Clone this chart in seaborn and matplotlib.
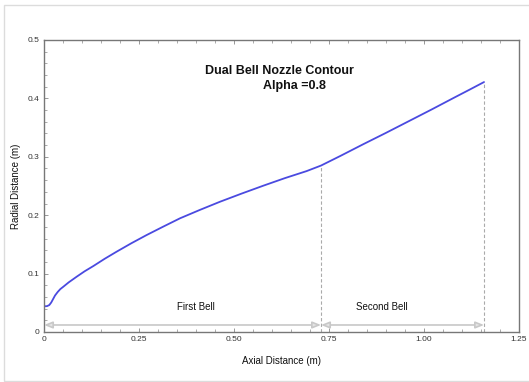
import matplotlib
matplotlib.use("Agg")
import matplotlib.pyplot as plt
from matplotlib.patches import Rectangle
from matplotlib.ticker import MultipleLocator, FixedLocator, FixedFormatter
import seaborn as sns
import pandas as pd

# Nozzle wall contour (axial vs radial distance, metres)
axial = [0.000, 0.008, 0.014, 0.019, 0.024, 0.029, 0.036, 0.043, 0.051,
         0.065, 0.086, 0.107, 0.130, 0.160, 0.191, 0.230, 0.270, 0.314,
         0.358, 0.410, 0.463, 0.520, 0.577, 0.634, 0.691, 0.729, 0.780,
         0.840, 0.900, 0.960, 1.020, 1.080, 1.120, 1.158]
radial = [0.0440, 0.0443, 0.0462, 0.0505, 0.0565, 0.0625, 0.0685, 0.0735,
          0.0776, 0.0850, 0.0947, 0.1040, 0.1130, 0.1255, 0.1375, 0.1520,
          0.1660, 0.1805, 0.1947, 0.2090, 0.2230, 0.2370, 0.2505, 0.2635,
          0.2755, 0.2850, 0.3015, 0.3215, 0.3410, 0.3610, 0.3810, 0.4015,
          0.4150, 0.4280]

# Bell extents
bell_names = ["First Bell", "Second Bell"]
bell_start = [0.0, 0.729]
bell_end = [0.729, 1.158]
bell_end_radius = [0.285, 0.428]
bell_label_x = [0.40, 0.89]

x_ticks = [0, 0.25, 0.50, 0.75, 1.00, 1.25]
x_tick_labels = ["0", "0.25", "0.50", "0.75", "1.00", "1.25"]
y_ticks = [0, 0.1, 0.2, 0.3, 0.4, 0.5]
y_tick_labels = ["0", "0.1", "0.2", "0.3", "0.4", "0.5"]

sns.set_style("ticks")
plt.rcParams["font.family"] = ["Liberation Sans", "DejaVu Sans"]

fig = plt.figure(figsize=(5.29, 3.82), dpi=100)
fig.patches.append(Rectangle((4 / 529, 1 / 382), 540 / 529, 376 / 382,
                             transform=fig.transFigure, fill=False,
                             edgecolor="#dcdcdc", linewidth=1.0))
ax = fig.add_axes([44 / 529, 1 - 332 / 382, 475 / 529, 292 / 382])

df = pd.DataFrame({"Axial": axial, "Radial": radial})
sns.lineplot(data=df, x="Axial", y="Radial", ax=ax, color="#4a4ae0",
             linewidth=1.3, sort=False)

ax.set_xlim(0, 1.25)
ax.set_ylim(0, 0.5)

# dashed separators at the end of each bell
for xe, re in zip(bell_end, bell_end_radius):
    ax.plot([xe, xe], [0, re], color="#aaaaaa", linestyle=(0, (3, 2)),
            linewidth=0.8, zorder=1)

# extent arrows and labels
arrow_y = 0.012
for name, xs, xe, xl in zip(bell_names, bell_start, bell_end, bell_label_x):
    ax.annotate("", xy=(xe, arrow_y), xytext=(xs, arrow_y),
                arrowprops=dict(arrowstyle="<|-|>,head_length=0.5,head_width=0.2",
                                color="#c8c8c8", fc="#e4e4e4", lw=1.2,
                                shrinkA=0, shrinkB=0))
    ax.text(xl, 0.043, name, ha="center", va="center", fontsize=7,
            color="#111111")

ax.text(0.62, 0.447, "Dual Bell Nozzle Contour", ha="center", va="center",
        fontsize=9, fontweight="bold", color="#111111")
ax.text(0.66, 0.422, "Alpha =0.8", ha="center", va="center",
        fontsize=9, fontweight="bold", color="#111111")

ax.xaxis.set_major_locator(FixedLocator(x_ticks))
ax.xaxis.set_major_formatter(FixedFormatter(x_tick_labels))
ax.yaxis.set_major_locator(FixedLocator(y_ticks))
ax.yaxis.set_major_formatter(FixedFormatter(y_tick_labels))
ax.xaxis.set_minor_locator(MultipleLocator(0.05))
ax.yaxis.set_minor_locator(MultipleLocator(0.02))
ax.tick_params(which="both", direction="in", top=True, right=False,
               colors="#888888", labelcolor="#333333", labelsize=6, pad=3)
ax.tick_params(which="major", length=3, width=0.6)
ax.tick_params(which="minor", length=2, width=0.5)

for s in ax.spines.values():
    s.set_color("#777777")
    s.set_linewidth(1.0)

ax.set_xlabel("Axial Distance (m)", fontsize=7, color="#111111", labelpad=9)
ax.set_ylabel("Radial Distance (m)", fontsize=7, color="#111111", labelpad=5)

fig.savefig("out.png", dpi=100)
